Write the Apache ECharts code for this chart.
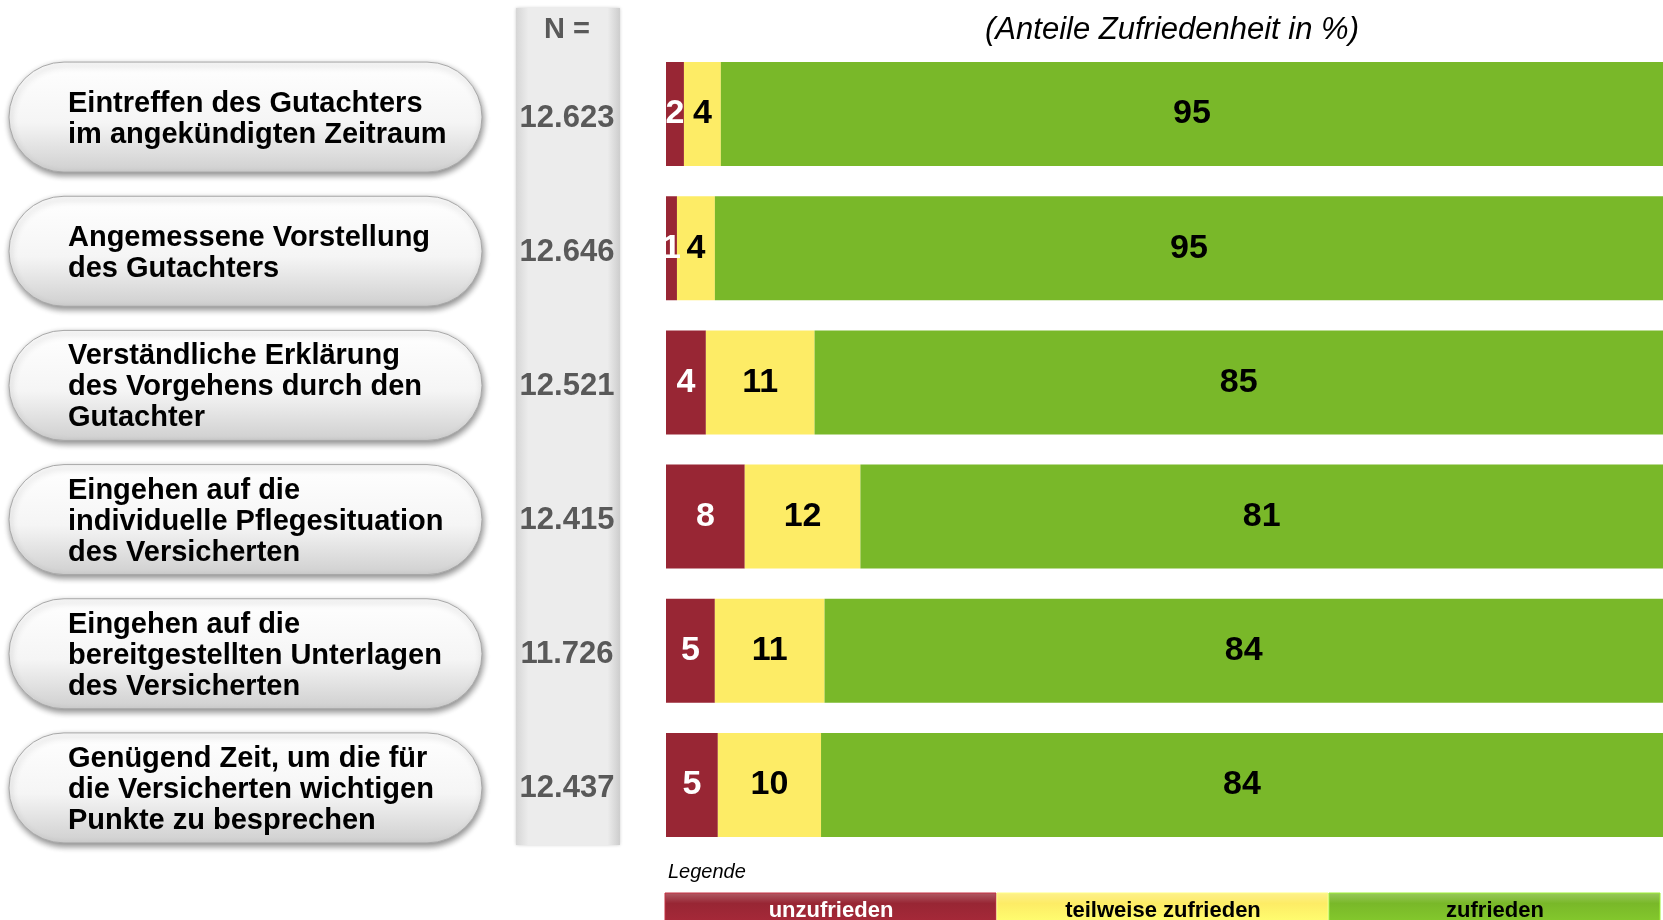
<!DOCTYPE html>
<html>
<head>
<meta charset="utf-8">
<script src="https://cdn.jsdelivr.net/npm/echarts@6/dist/echarts.min.js"></script>
<style>
  html, body { margin: 0; padding: 0; background: #fff; }
  #chart { width: 1663px; height: 920px; }
</style>
</head>
<body>
<div id="chart"></div>
<script>
  // Fragen (Kategorien), von oben nach unten
  var categories = [
    'Eintreffen des Gutachters\nim angekündigten Zeitraum',
    'Angemessene Vorstellung\ndes Gutachters',
    'Verständliche Erklärung\ndes Vorgehens durch den\nGutachter',
    'Eingehen auf die\nindividuelle Pflegesituation\ndes Versicherten',
    'Eingehen auf die\nbereitgestellten Unterlagen\ndes Versicherten',
    'Genügend Zeit, um die für\ndie Versicherten wichtigen\nPunkte zu besprechen'
  ];
  var nValues = ['12.623', '12.646', '12.521', '12.415', '11.726', '12.437'];
  var seriesNames = ['unzufrieden', 'teilweise zufrieden', 'zufrieden'];
  // Anteile in %, aus den Balkenbreiten geschaetzt (Beschriftung gerundet)
  var unzufrieden = [1.8, 1.1, 4.0, 7.9, 4.9, 5.2];
  var teilweise = [3.7, 3.8, 10.9, 11.6, 11.0, 10.35];
  var zufrieden = [94.5, 95.1, 85.1, 80.5, 84.1, 84.45];

  var colors = ['#982634', '#fdec66', '#79b829'];
  var labelColors = ['#ffffff', '#000000', '#000000'];
  var FONT = '"Liberation Sans", Arial, sans-serif';

  var chart = echarts.init(document.getElementById('chart'));

  function barSeries(idx, data) {
    return {
      name: seriesNames[idx],
      type: 'bar',
      stack: 'total',
      barWidth: 104,
      itemStyle: {color: colors[idx]},
      label: {
        show: true,
        position: 'inside',
        formatter: function (p) { return Math.round(p.value); },
        color: labelColors[idx],
        fontFamily: FONT,
        fontWeight: 'bold',
        fontSize: 34
      },
      data: data,
      z: 3
    };
  }

  /*Pillen links + N-Spalte*/
  function renderRow(params, api) {
    var i = api.value(1);
    var y = api.coord([0, i])[1] + 3;
    return {
      type: 'group',
      children: [
        {
          type: 'rect',
          shape: {x: 9, y: y - 55, width: 473, height: 110, r: 55},
          style: {
            fill: new echarts.graphic.LinearGradient(0, 0, 0, 1, [
              {offset: 0, color: '#ffffff'},
              {offset: 0.55, color: '#f5f5f5'},
              {offset: 1, color: '#cfcfcf'}
            ]),
            stroke: '#a8a8a8',
            lineWidth: 1,
            shadowBlur: 6,
            shadowOffsetY: 3,
            shadowOffsetX: 1,
            shadowColor: 'rgba(0,0,0,0.45)'
          }
        },
        {
          type: 'text',
          style: {
            text: categories[i],
            x: 68,
            y: y + 2,
            verticalAlign: 'middle',
            align: 'left',
            fontFamily: FONT,
            fontWeight: 'bold',
            fontSize: 29,
            lineHeight: 31,
            fill: '#000'
          }
        },
        {
          type: 'text',
          style: {
            text: nValues[i],
            x: 567,
            y: y + 1,
            verticalAlign: 'middle',
            align: 'center',
            fontFamily: FONT,
            fontWeight: 'bold',
            fontSize: 31,
            fill: '#595959'
          }
        }
      ]
    };
  }

  var legendGraphics = [];
  seriesNames.map(function (name, idx) {
    var x0 = 665 + idx * 332;
    legendGraphics.push({
      type: 'rect',
      shape: {x: x0, y: 893, width: 331, height: 30},
      style: {
        fill: new echarts.graphic.LinearGradient(0, 0, 0, 1, [
          {offset: 0, color: echarts.color.lift(colors[idx], 0.25)},
          {offset: 0.35, color: colors[idx]},
          {offset: 1, color: echarts.color.lift(colors[idx], -0.1)}
        ]),
        stroke: echarts.color.lift(colors[idx], -0.3),
        lineWidth: 1
      }
    });
    legendGraphics.push({
      type: 'text',
      style: {
        text: name,
        x: x0 + 166,
        y: 911,
        align: 'center',
        verticalAlign: 'middle',
        fontFamily: FONT,
        fontWeight: 'bold',
        fontSize: 22,
        fill: labelColors[idx]
      }
    });
  });

  chart.setOption({
    animation: false,
    grid: {left: 666, right: 0, top: 47, height: 805},
    xAxis: {
      type: 'value',
      min: 0,
      max: 100,
      show: false
    },
    yAxis: {
      type: 'category',
      inverse: true,
      data: categories,
      axisLine: {show: false},
      axisTick: {show: false},
      axisLabel: {show: false},
      splitLine: {show: false}
    },
    graphic: [
      {
        type: 'rect',
        z: -1,
        shape: {x: 516, y: 8, width: 104, height: 837},
        style: {
          fill: new echarts.graphic.LinearGradient(0, 0, 1, 0, [
            {offset: 0, color: '#d6d6d6'},
            {offset: 0.12, color: '#ececec'},
            {offset: 0.88, color: '#ececec'},
            {offset: 1, color: '#cdcdcd'}
          ]),
          shadowBlur: 3,
          shadowColor: 'rgba(0,0,0,0.2)'
        }
      },
      {
        type: 'text',
        style: {
          text: 'N =',
          x: 567, y: 30,
          align: 'center', verticalAlign: 'middle',
          fontFamily: FONT, fontWeight: 'bold', fontSize: 29, fill: '#595959'
        }
      },
      {
        type: 'text',
        style: {
          text: '(Anteile Zufriedenheit in %)',
          x: 1172, y: 30,
          align: 'center', verticalAlign: 'middle',
          fontFamily: FONT, fontStyle: 'italic', fontSize: 31, fill: '#000'
        }
      },
      {
        type: 'text',
        style: {
          text: 'Legende',
          x: 668, y: 872,
          align: 'left', verticalAlign: 'middle',
          fontFamily: FONT, fontStyle: 'italic', fontSize: 20, fill: '#000'
        }
      }
    ].concat(legendGraphics),
    series: [
      barSeries(0, unzufrieden),
      barSeries(1, teilweise),
      barSeries(2, zufrieden),
      {
        type: 'custom',
        clip: false,
        silent: true,
        renderItem: renderRow,
        encode: {x: 0, y: 1},
        data: categories.map(function (c, i) { return [0, i]; }),
        z: 1
      }
    ]
  });
</script>
</body>
</html>
